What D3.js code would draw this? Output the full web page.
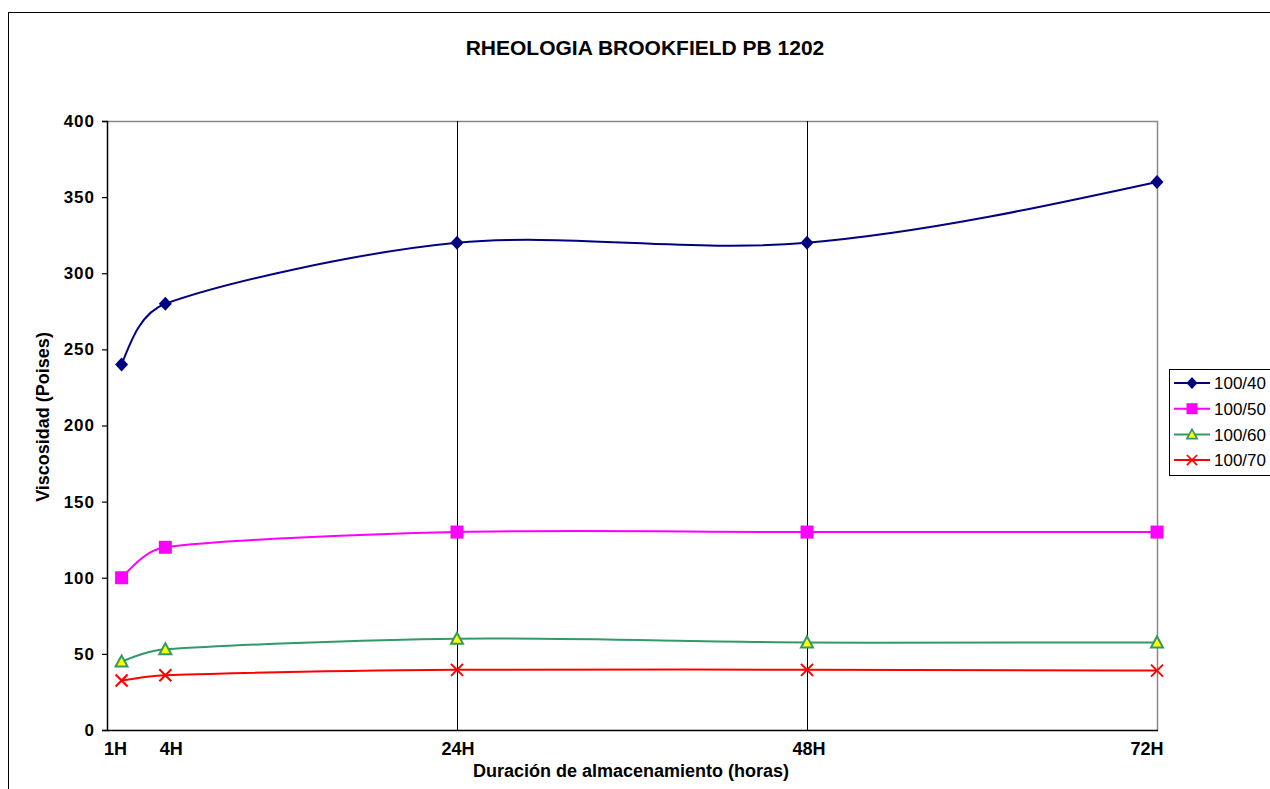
<!DOCTYPE html>
<html lang="es">
<head>
<meta charset="utf-8">
<title>Rheologia Brookfield PB 1202</title>
<script src="https://d3js.org/d3.v7.min.js"></script>
<style>
  body { margin: 0; background: #fff; }
  svg text { font-family: Arial, "Liberation Sans", sans-serif; fill: #000; }
</style>
</head>
<body>
<svg id="chart"></svg>
<script>
    // data
    const hours = [1, 4, 24, 48, 72];
    const hourLabels = ["1H", "4H", "24H", "48H", "72H"];
    const seriesNames = ["100/40", "100/50", "100/60", "100/70"];
    const v40 = [240, 280, 320, 320, 360];
    const v50 = [100, 120, 130, 130, 130];
    const v60 = [45, 53, 60, 57.5, 57.5];
    const v70 = [32.5, 36, 39.5, 39.5, 39];
    const yTicks = [0, 50, 100, 150, 200, 250, 300, 350, 400];
    const gridHours = [24, 48];

    const width = 1270, height = 789;
    const plot = {left: 107, right: 1157, top: 121, bottom: 730};

    let svg = d3.select("#chart")
        .attr("width", width)
        .attr("height", height);

    // outer chart border
    svg.append("rect")
        .attr("x", 8.5).attr("y", 12.5)
        .attr("width", 1300).attr("height", 800)
        .attr("fill", "none").attr("stroke", "#000").attr("stroke-width", 1);

    let x = d3.scaleLinear().domain([0, 72]).range([plot.left, plot.right]);
    let y = d3.scaleLinear().domain([0, 400]).range([plot.bottom, plot.top]);

    // plot area frame (top + right grey)
    svg.append("path")
        .attr("d", `M${plot.left},${plot.top + 0.5}H${plot.right + 0.5}V${plot.bottom}`)
        .attr("fill", "none").attr("stroke", "#888").attr("stroke-width", 1.5);

    // vertical gridlines
    svg.append("g").selectAll("line")
        .data(gridHours)
        .join("line")
            .attr("x1", d => Math.round(x(d)) + 0.5).attr("x2", d => Math.round(x(d)) + 0.5)
            .attr("y1", plot.top).attr("y2", plot.bottom)
            .attr("stroke", "#000").attr("stroke-width", 1);

    // y axis
    let yAxis = svg.append("g")
        .attr("transform", `translate(${plot.left},0)`)
        .call(d3.axisLeft(y).tickValues(yTicks).tickSize(5).tickPadding(7));
    yAxis.select(".domain").attr("stroke", "#000").attr("stroke-width", 1.5);
    yAxis.selectAll(".tick line").attr("stroke", "#000").attr("stroke-width", 1.2);
    yAxis.selectAll(".tick text")
        .attr("font-size", 17).attr("font-weight", "bold")
        .attr("letter-spacing", 1)
        .attr("font-family", "Arial, 'Liberation Sans', sans-serif");

    // x axis line
    svg.append("line")
        .attr("x1", plot.left).attr("x2", plot.right + 1)
        .attr("y1", plot.bottom + 0.5).attr("y2", plot.bottom + 0.5)
        .attr("stroke", "#000").attr("stroke-width", 1.5);

    // x tick labels (Excel nudges the outer ones a little)
    const labelNudge = [-6, 6, 1, 2, -10];
    svg.append("g").selectAll("text")
        .data(hours)
        .join("text")
            .attr("x", (d, i) => x(d) + labelNudge[i])
            .attr("y", 755)
            .attr("text-anchor", "middle")
            .attr("font-size", 18).attr("font-weight", "bold")
            .text((d, i) => hourLabels[i]);

    // titles
    svg.append("text")
        .attr("x", 645).attr("y", 55)
        .attr("text-anchor", "middle")
        .attr("font-size", 21).attr("font-weight", "bold")
        .text("RHEOLOGIA BROOKFIELD PB 1202");

    svg.append("text")
        .attr("x", 631).attr("y", 777)
        .attr("text-anchor", "middle")
        .attr("font-size", 18).attr("font-weight", "bold")
        .text("Duración de almacenamiento (horas)");

    svg.append("text")
        .attr("transform", "translate(49,417) rotate(-90)")
        .attr("text-anchor", "middle")
        .attr("font-size", 18).attr("font-weight", "bold")
        .text("Viscosidad (Poises)");

    // series
    const series = [
        {name: seriesNames[0], values: v40, color: "#000080", marker: "diamond"},
        {name: seriesNames[1], values: v50, color: "#FF00FF", marker: "square"},
        {name: seriesNames[2], values: v60, color: "#339966", marker: "triangle"},
        {name: seriesNames[3], values: v70, color: "#FF0000", marker: "cross"}
    ];

    // Excel-like smoothing: Catmull-Rom tangents (P[i+1]-P[i-1])/6,
    // clamped to a third of the segment, free ends at the first/last point
    function smoothPath(pts) {
        let n = pts.length;
        let p = d3.path();
        p.moveTo(pts[0][0], pts[0][1]);
        function tangent(i, segLen) {
            let a = pts[i - 1], b = pts[i + 1];
            let tx = (b[0] - a[0]) / 6, ty = (b[1] - a[1]) / 6;
            let m = Math.hypot(tx, ty), cap = segLen / 3;
            if (m > cap) { tx *= cap / m; ty *= cap / m; }
            return [tx, ty];
        }
        for (let i = 0; i < n - 1; i++) {
            let a = pts[i], b = pts[i + 1];
            let L = Math.hypot(b[0] - a[0], b[1] - a[1]);
            let c1 = null, c2 = null;
            if (i > 0) { let t = tangent(i, L); c1 = [a[0] + t[0], a[1] + t[1]]; }
            if (i + 1 < n - 1) { let t = tangent(i + 1, L); c2 = [b[0] - t[0], b[1] - t[1]]; }
            if (!c1) c1 = [(a[0] + c2[0]) / 2, (a[1] + c2[1]) / 2];
            if (!c2) c2 = [(b[0] + c1[0]) / 2, (b[1] + c1[1]) / 2];
            p.bezierCurveTo(c1[0], c1[1], c2[0], c2[1], b[0], b[1]);
        }
        return p.toString();
    }

    function drawMarker(g, type, color) {
        if (type === "diamond") {
            g.append("path").attr("d", "M0,-7L6.5,0L0,7L-6.5,0Z").attr("fill", color);
        } else if (type === "square") {
            g.append("rect").attr("x", -6.5).attr("y", -6.5).attr("width", 13).attr("height", 13)
                .attr("fill", color);
        } else if (type === "triangle") {
            g.append("path").attr("d", "M0,-6L6,5L-6,5Z")
                .attr("fill", "#FFFF00").attr("stroke", color).attr("stroke-width", 2);
        } else {
            g.append("path").attr("d", "M-6,-6L6,6M-6,6L6,-6")
                .attr("stroke", color).attr("stroke-width", 2);
        }
    }

    let seriesG = svg.append("g");
    series.forEach(s => {
        let pts = hours.map((h, i) => [x(h), y(s.values[i])]);
        seriesG.append("path")
            .attr("d", smoothPath(pts))
            .attr("fill", "none")
            .attr("stroke", s.color)
            .attr("stroke-width", 2);
        pts.forEach(p => {
            let g = seriesG.append("g").attr("transform", `translate(${p[0]},${p[1]})`);
            drawMarker(g, s.marker, s.color);
        });
    });

    // legend
    let legend = svg.append("g").attr("transform", "translate(1169,369)");
    legend.append("rect")
        .attr("x", 0.5).attr("y", 0.5).attr("width", 120).attr("height", 106)
        .attr("fill", "#fff").attr("stroke", "#000").attr("stroke-width", 1);
    series.forEach((s, i) => {
        let row = legend.append("g").attr("transform", `translate(0,${14 + i * 25.7})`);
        row.append("line")
            .attr("x1", 5).attr("x2", 41)
            .attr("stroke", s.color).attr("stroke-width", 2);
        drawMarker(row.append("g").attr("transform", "translate(23,0) scale(0.85)"), s.marker, s.color);
        row.append("text")
            .attr("x", 45).attr("y", 0).attr("dy", "0.36em")
            .attr("font-size", 17)
            .text(s.name);
    });
</script>
</body>
</html>
